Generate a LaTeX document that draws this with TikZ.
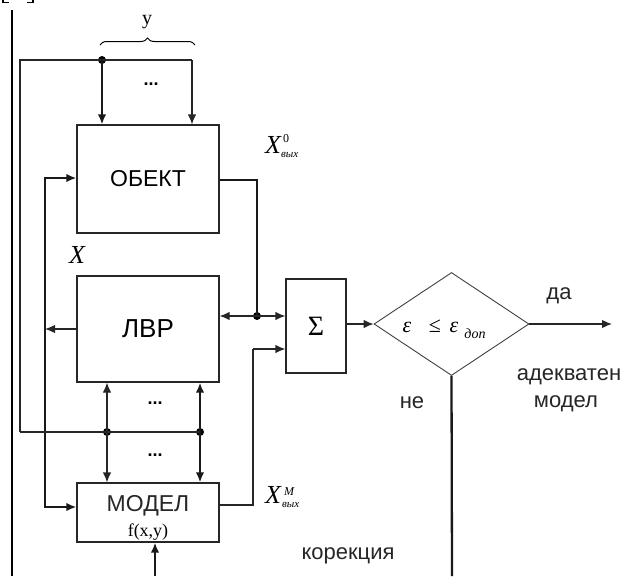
\documentclass[tikz,border=0pt]{standalone}
\usepackage{fontspec}
\setmainfont{Liberation Sans}
\newfontfamily\tms{Liberation Serif}
\usetikzlibrary{arrows.meta,shapes.geometric,decorations.pathreplacing,calc}
\newcommand\myfs[1]{\fontsize{#1}{#1}\selectfont}
\begin{document}
\begin{tikzpicture}[x=1pt,y=-1pt,
  ln/.style={line width=1.2pt, draw=black!85},
  thk/.style={line width=2.3pt, draw=black!90},
  arr/.style={-{Latex[length=10pt,width=8.5pt]}},
  arrboth/.style={{Latex[length=10pt,width=8.5pt]}-{Latex[length=10pt,width=8.5pt]}},
  box/.style={draw=black!85, line width=1.2pt, inner sep=0pt},
  jdot/.style={circle, fill=black, inner sep=0pt, minimum size=8pt},
  lbl/.style={font=\myfs{22}, text=black!85},
  tight/.style={inner sep=0pt}
]
\useasboundingbox (0,0) rectangle (628,576);

% left edge line and bracket fragments
\coordinate (e1) at (12,10);
\coordinate (e2) at (12,576);
\draw[line width=1.2pt] (e1) -- (e2);
\coordinate (b1) at (3,0); \coordinate (b2) at (3,2.5); \coordinate (b3) at (9,2.5);
\coordinate (b4) at (27,2.5); \coordinate (b5) at (33,2.5); \coordinate (b6) at (33,0);
\draw[line width=1.2pt] (b1) -- (b2) -- (b3);
\draw[line width=1.2pt] (b4) -- (b5) -- (b6);

% blocks
\node[box, minimum width=142pt, minimum height=108pt, font=\myfs{23}] (ob) at (148,179) {ОБЕКТ};
\node[box, minimum width=142pt, minimum height=106pt, font=\myfs{26}] (lvr) at (148,329) {ЛВР};
\node[box, minimum width=142pt, minimum height=59pt] (mod) at (148,512.5) {};
\node[font=\myfs{23}, text=black!85] (modt) at (148,506) {МОДЕЛ};
\node[font=\tms\myfs{18}] (modf) at (148,532) {f(x,y)};
\node[box, minimum width=60pt, minimum height=94pt, font=\tms\myfs{28}] (sig) at (316,326) {Σ};
\node[diamond, draw=black!75, line width=0.9pt, minimum width=155pt, minimum height=103pt, inner sep=0pt] (dia) at (451.5,324) {};

% condition text
\node[tight, font=\tms\itshape\myfs{22}] (eps1) at (407,327) {ε};
\node[tight, font=\tms\myfs{22}] (leq) at (435,326) {≤};
\node[tight, font=\tms\itshape\myfs{22}] (eps2) at (454,327) {ε};
\node[tight, font=\tms\itshape\myfs{14}] (dop) at (475,334) {доп};

% top input lines and brace
\coordinate (tl) at (20,60);
\coordinate (bl) at (20,432);
\coordinate (tr) at (192,60);
\node[jdot] (d1) at (102,60) {};
\draw[ln] (bl) -- (tl) -- (tr);
\draw[thk, arr] (d1.center) -- (d1 |- ob.north);
\draw[ln, arr] (tr) -- (tr |- ob.north);
\coordinate (br1) at (100,45);
\coordinate (br2) at (195,45);
\draw[line width=1pt, decorate, decoration={brace, amplitude=7pt}] (br1) -- (br2);
\node[font=\tms\myfs{20}] (ylab) at (147,22) {y};
\node[font=\bfseries\myfs{18}] (dots1) at (151,84) {...};

% feedback line on the left
\coordinate (c1) at (45,178);
\coordinate (c2) at (45,507);
\draw[thk, arrboth] (ob.west |- c1) -- (c1) -- (c2) -- (mod.west |- c2);
\draw[ln, arr] (lvr.west) -- (lvr.west -| c1);
\node[tight, font=\tms\itshape\myfs{26}] (xl) at (77,255) {X};

% object output
\coordinate (o1) at (257,180);
\node[jdot] (d2) at (257,316) {};
\draw[thk] (ob.east |- o1) -- (o1) -- (d2.center);
\draw[ln, arr] (d2.center) -- (lvr.east |- d2);
\draw[ln, arr] (d2.center) -- (sig.west |- d2);
\node[tight, anchor=base west, font=\tms\itshape] (x0) at (265,153)
  {\myfs{26}X\hspace{2pt}\raisebox{11pt}{\upshape\myfs{12}0}\hspace{-8pt}\raisebox{-4pt}{\myfs{11}вых}};

% model output
\coordinate (m1) at (253,505);
\coordinate (m2) at (253,349);
\draw[ln] (mod.east |- m1) -- (m1) -- (m2);
\draw[ln, arr] (m2) -- (sig.west |- m2);
\node[tight, anchor=base west, font=\tms\itshape] (xm) at (265,503)
  {\myfs{26}X\hspace{3pt}\raisebox{8pt}{\myfs{12}M}\hspace{-12pt}\raisebox{-4pt}{\myfs{11}вых}};

% sigma -> decision
\draw[ln, arr] (sig.east |- dia.west) -- (dia.west);
\coordinate (yes) at (612,324);
\draw[ln, arr] (dia.east) -- (yes);
\coordinate (no) at (452,576);
\draw[thk] (dia.south) -- (no);
\node[lbl] (da) at (559,296) {да};
\node[lbl] (ne) at (412,403) {не};
\node[lbl] (ad1) at (569,377) {адекватен};
\node[lbl] (ad2) at (566,404) {модел};
\node[lbl] (kor) at (348,556) {корекция};

% model input (correction)
\coordinate (min) at (155,576);
\draw[thk, arr] (min) -- (min |- mod.south);

% links between LVR and MODEL
\node[jdot] (d3) at (107,432) {};
\node[jdot] (d4) at (200,432) {};
\draw[ln] (bl) -- (d4.center);
\draw[ln, arr] (d3.center) -- (d3 |- lvr.south);
\draw[ln, arr] (d3.center) -- (d3 |- mod.north);
\draw[thk, arr] (d4.center) -- (d4 |- lvr.south);
\draw[thk, arr] (d4.center) -- (d4 |- mod.north);
\node[font=\bfseries\myfs{18}] (dots2) at (155,403) {...};
\node[font=\bfseries\myfs{18}] (dots3) at (155,455) {...};
\end{tikzpicture}
\end{document}
